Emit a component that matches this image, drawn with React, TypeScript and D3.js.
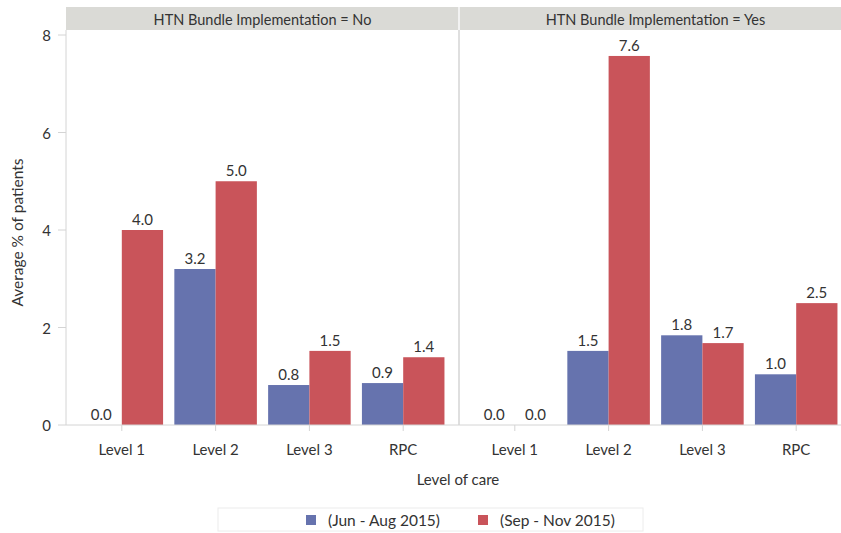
import * as d3 from "d3";

const categories = ["Level 1", "Level 2", "Level 3", "RPC"];
const panelTitles = [
  "HTN Bundle Implementation = No",
  "HTN Bundle Implementation = Yes",
];
const seriesNames = ["(Jun - Aug 2015)", "(Sep - Nov 2015)"];
const seriesColors = ["#6673ae", "#c9545a"];
const yTicks = [0, 2, 4, 6, 8];

// values per panel (No / Yes), per series
const noJunAug = [0.0, 3.2, 0.82, 0.86];
const noSepNov = [4.0, 5.0, 1.52, 1.39];
const yesJunAug = [0.0, 1.52, 1.84, 1.04];
const yesSepNov = [0.0, 7.57, 1.68, 2.5];

const panelValues = [
  [noJunAug, noSepNov],
  [yesJunAug, yesSepNov],
];

const font = "Lato, 'Open Sans', sans-serif";
const textColor = "#333";
const lineColor = "#d4d4d4";

export default function App() {
  const width = 841;
  const height = 533;
  const plotLeft = 66;
  const plotTop = 30;
  const plotBottom = 425;
  const panelWidth = 393;

  const yScale = d3.scaleLinear().domain([0, 8]).range([plotBottom, 35]);

  const panelX = d3
    .scaleBand<number>()
    .domain([0, 1])
    .range([plotLeft, plotLeft + panelWidth * 2])
    .padding(0);

  const fmt = d3.format(".1f");

  return (
    <svg
      width={width}
      height={height}
      style={{ position: "absolute", left: 0, top: 0, background: "#fff" }}
      fontFamily={font}
    >
      {/* Header strip */}
      <rect x={plotLeft} y={7} width={width - plotLeft} height={plotTop - 7} fill="#dadad6" />

      {panelTitles.map((title, p) => {
        const x0 = panelX(p) || 0;
        const xScale = d3
          .scaleBand()
          .domain(categories)
          .range([x0, x0 + panelWidth])
          .paddingInner(0.12)
          .paddingOuter(0.155);
        const xSub = d3
          .scaleBand<number>()
          .domain([0, 1])
          .range([0, xScale.bandwidth()]);
        return (
          <g key={title}>
            <text
              x={x0 + panelWidth / 2}
              y={19}
              textAnchor="middle"
              dominantBaseline="central"
              fontSize={14.5}
              fill={textColor}
            >
              {title}
            </text>
            {/* bars */}
            {panelValues[p].map((vals, s) =>
              vals.map((v, i) => {
                const bx = (xScale(categories[i]) || 0) + (xSub(s) || 0);
                return (
                  <g key={`${s}-${i}`}>
                    <rect
                      x={bx}
                      y={yScale(v)}
                      width={xSub.bandwidth()}
                      height={plotBottom - yScale(v)}
                      fill={seriesColors[s]}
                    />
                    <text
                      x={bx + xSub.bandwidth() / 2}
                      y={yScale(v) - 11}
                      textAnchor="middle"
                      dominantBaseline="central"
                      fontSize={15}
                      fill={textColor}
                    >
                      {fmt(v)}
                    </text>
                  </g>
                );
              })
            )}
            {/* x ticks + labels */}
            {categories.map((c) => {
              const cx = (xScale(c) || 0) + xScale.bandwidth() / 2;
              return (
                <g key={c}>
                  <line x1={cx} x2={cx} y1={plotBottom} y2={plotBottom + 6} stroke={lineColor} />
                  <text
                    x={cx}
                    y={449}
                    textAnchor="middle"
                    dominantBaseline="central"
                    fontSize={15}
                    fill={textColor}
                  >
                    {c}
                  </text>
                </g>
              );
            })}
          </g>
        );
      })}

      {/* panel divider */}
      <line x1={459} x2={459} y1={7} y2={plotTop} stroke="#f2f2f2" strokeWidth={2} />
      <line x1={459} x2={459} y1={plotTop} y2={plotBottom} stroke={lineColor} strokeWidth={1.5} />

      {/* axes */}
      <line x1={plotLeft} x2={plotLeft} y1={plotTop} y2={plotBottom} stroke={lineColor} />
      <line x1={plotLeft} x2={width} y1={plotBottom} y2={plotBottom} stroke={lineColor} />
      {yTicks.map((t) => (
        <g key={t}>
          <line x1={plotLeft - 8} x2={plotLeft} y1={yScale(t)} y2={yScale(t)} stroke={lineColor} />
          <text
            x={51}
            y={yScale(t)}
            textAnchor="end"
            dominantBaseline="central"
            fontSize={15}
            fill={textColor}
          >
            {t}
          </text>
        </g>
      ))}
      <text
        transform={`translate(17,${(plotTop + plotBottom) / 2 + 5}) rotate(-90)`}
        textAnchor="middle"
        dominantBaseline="central"
        fontSize={15.5}
        fill={textColor}
      >
        Average % of patients
      </text>
      <text
        x={458}
        y={479}
        textAnchor="middle"
        dominantBaseline="central"
        fontSize={15}
        fill={textColor}
      >
        Level of care
      </text>

      {/* legend */}
      <rect x={218} y={508} width={425} height={23} fill="none" stroke="#ececec" />
      {seriesNames.map((name, s) => {
        const lx = [306, 478][s];
        return (
          <g key={name}>
            <rect x={lx} y={515} width={10} height={10} fill={seriesColors[s]} />
            <text
              x={lx + 22}
              y={520}
              dominantBaseline="central"
              fontSize={15.5}
              fill={textColor}
            >
              {name}
            </text>
          </g>
        );
      })}
    </svg>
  );
}
